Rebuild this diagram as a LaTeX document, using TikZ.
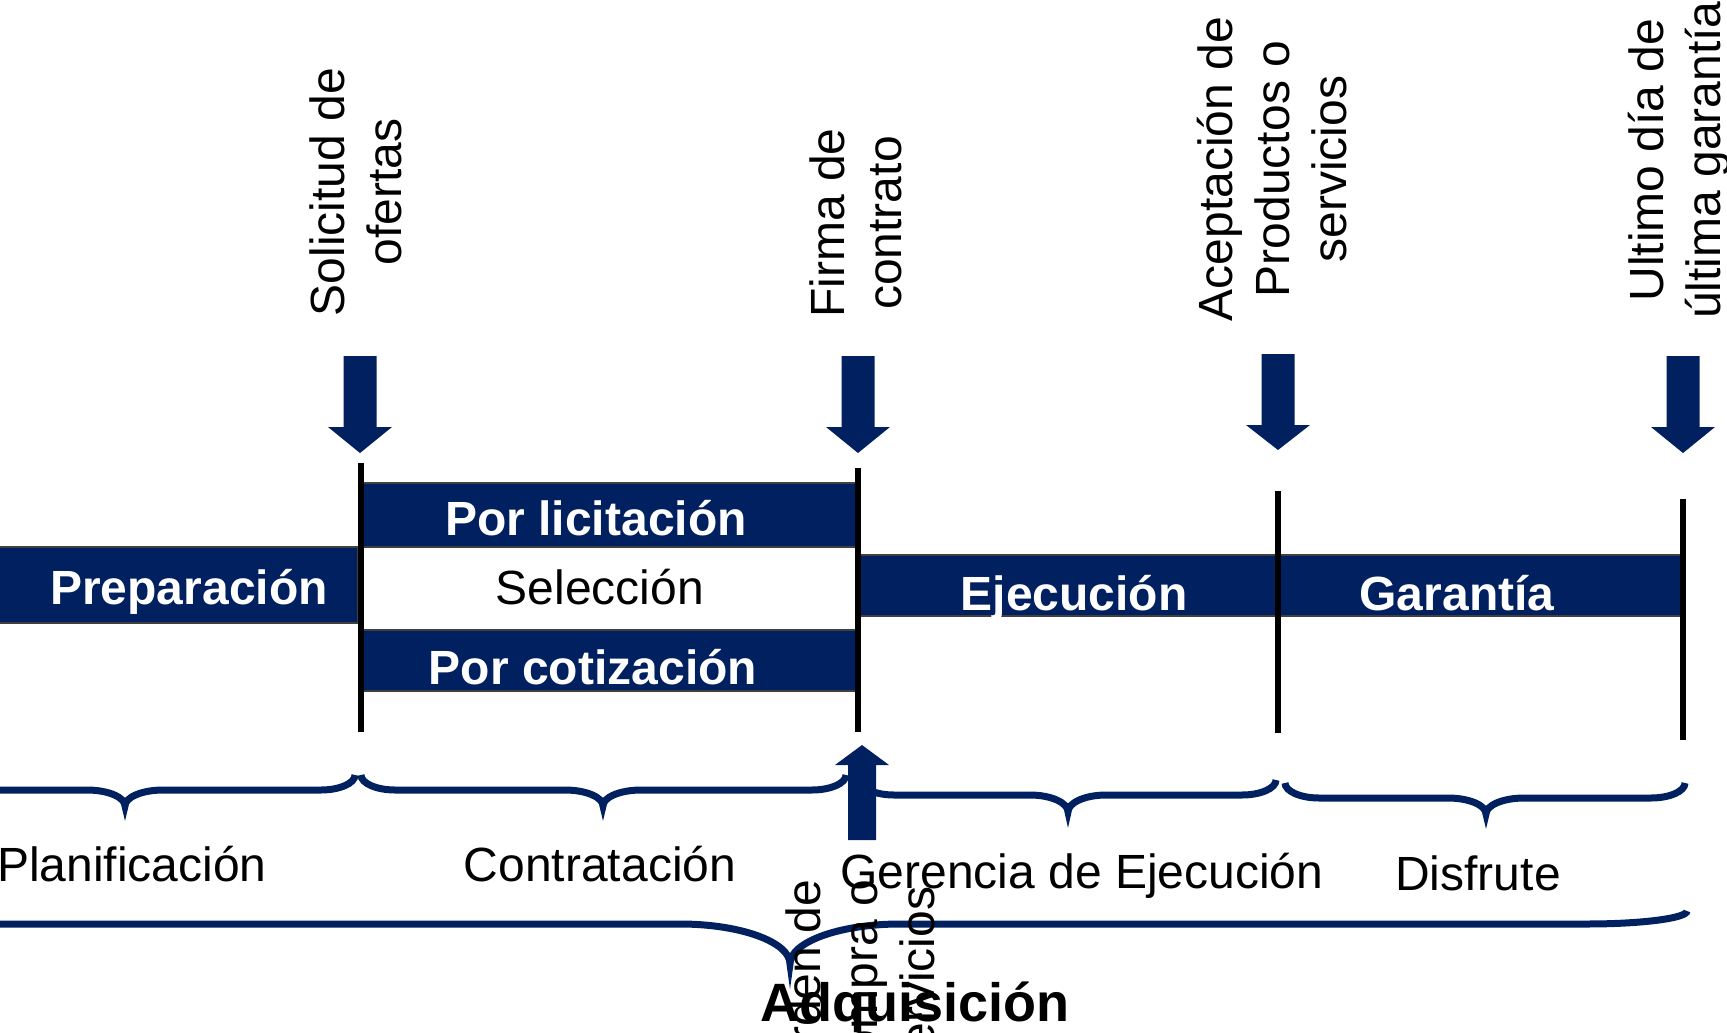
\documentclass[tikz,border=0pt]{standalone}
\usepackage{fontspec}
\setmainfont{Liberation Sans}
\definecolor{navy}{RGB}{0,32,96}
\tikzset{
  bar/.style={fill=navy, draw=black!75, line width=1.2pt},
  vline/.style={line width=6pt, black},
  blk/.style={fill=navy},
  brc/.style={draw=navy, line width=7pt},
  lbl/.style={font=\fontsize{48}{57}\selectfont, align=center, inner sep=0pt},
  rlbl/.style={lbl, rotate=90},
  bartxt/.style={font=\fontsize{48}{57}\selectfont\bfseries, text=white, inner sep=0pt, anchor=base},
  undertxt/.style={font=\fontsize{48}{57}\selectfont, inner sep=0pt, anchor=base},
}
% down block arrow: cx, top, head base, tip
\newcommand\DownBlk[4]{%
  \fill[blk] (#1-16.5,#2) -- (#1+16.5,#2) -- (#1+16.5,#3) -- (#1+32,#3) -- (#1,#4)
    -- (#1-32,#3) -- (#1-16.5,#3) -- cycle;}
% curly brace: x1, x2, xtip, yend, yline, ytip, rend, rtip, width
\newcommand\CurlyBr[9]{%
  \draw[brc, line width=#9] (#1,#4) .. controls (#1,{#4+0.55*(#5-#4)}) and ({#1+0.45*#7},#5) .. (#1+#7,#5)
    -- (#3-#8,#5)
    .. controls ({#3-0.45*#8},#5) and (#3,{#5+0.45*(#6-#5)}) .. (#3,#6)
    .. controls (#3,{#5+0.45*(#6-#5)}) and ({#3+0.45*#8},#5) .. (#3+#8,#5)
    -- (#2-#7,#5)
    .. controls ({#2-0.45*#7},#5) and (#2,{#4+0.55*(#5-#4)}) .. (#2,#4);}
\begin{document}
\begin{tikzpicture}[x=1pt,y=-1pt]
\useasboundingbox (0,0) rectangle (1727,1033);

% bars
\fill[bar] (-20,547) rectangle (358,623);
\fill[bar] (363,483) rectangle (856,547);
\fill[bar] (363,630) rectangle (856,691);
\fill[bar] (858,555) rectangle (1278,616);
\fill[bar] (1278,555) rectangle (1683,616);

% bar texts
\node[bartxt] (prep) at (189,604) {Preparación};
\node[bartxt] (lic) at (596,535) {Por licitación};
\node[undertxt] (sel) at (600,604) {Selección};
\node[bartxt] (cot) at (593,684) {Por cotización};
\node[bartxt] (eje) at (1074,610) {Ejecución};
\node[bartxt] (gar) at (1457,610) {Garantía};

% vertical milestone lines
\draw[vline] (361,463) -- (361,732);
\draw[vline] (858,468) -- (858,732);
\draw[vline] (1278,491) -- (1278,733);
\draw[vline] (1683,499) -- (1683,740);

% top rotated labels
\node[rlbl] (sol) at (356,192) {Solicitud de\\ofertas};
\node[rlbl] (fir) at (856,223) {Firma de\\contrato};
\node[rlbl] (ace) at (1272,169) {Aceptación de\\Productos o\\servicios};
\node[rlbl] (ult) at (1679,160) {Ultimo día de\\última garantía};

% down arrows
\DownBlk{360}{356}{427}{453}
\DownBlk{858}{356}{427}{453}
\DownBlk{1278}{354}{425}{450}
\DownBlk{1683}{356}{427}{453}

% braces
\CurlyBr{-106}{355}{125}{775}{790}{806}{34}{38}{7pt}
\CurlyBr{361}{846}{603}{775}{790}{806}{34}{38}{7pt}
\CurlyBr{860}{1276}{1068}{780}{795}{812}{34}{38}{7pt}
\CurlyBr{1285}{1685}{1486}{783}{798}{814}{34}{38}{7pt}
\CurlyBr{-106}{1687}{790}{911}{924}{964}{100}{110}{7pt}

% up arrow
\fill[blk] (848,840) -- (876,840) -- (876,765) -- (889,765) -- (862,745) -- (835,765) -- (848,765) -- cycle;

% lower labels
\node[undertxt] (pla) at (132,881) {Planificación};
\node[undertxt] (con) at (600,881) {Contratación};
\node[undertxt] (ger) at (1082,888) {Gerencia de Ejecución};
\node[undertxt] (dis) at (1478,890) {Disfrute};
\node[undertxt, font=\fontsize{54}{60}\selectfont\bfseries] (adq) at (915,1021) {Adquisición};
\node[rlbl] (ord) at (860,980) {Orden de\\compra o\\servicios};
\end{tikzpicture}
\end{document}
